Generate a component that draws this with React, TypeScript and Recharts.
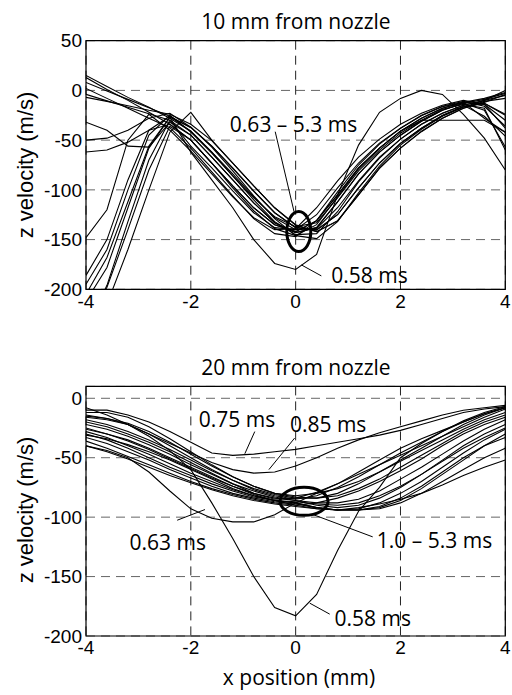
import React from 'react';
import {
  LineChart,
  Line,
  XAxis,
  YAxis,
  CartesianGrid,
  ReferenceArea,
  ReferenceDot,
  ReferenceLine,
} from 'recharts';

// x positions (mm) shared by every trace
const XS = [-4, -3.6, -3.2, -2.8, -2.4, -2, -1.6, -1.2, -0.8, -0.4, 0, 0.4, 0.8, 1.2, 1.6, 2, 2.4, 2.8, 3.2, 3.6, 4];

// ---- 10 mm from nozzle (z velocity, m/s) ----
const top_a1 = [15, 4, -7, -17, -28, -41, -62, -84, -107, -128, -140, -139, -118, -91, -67, -49, -34, -23, -15, -10, 0];
const top_a2 = [13, 1, -10, -22, -34, -50, -73, -98, -121, -139, -146, -135, -107, -79, -58, -41, -28, -18, -12, -8, -2];
const top_a3 = [8, -0.5, -9, -17.5, -26, -37.5, -56, -78.5, -101.5, -123, -138, -140.5, -125, -98, -73, -53.5, -38, -25.5, -16.5, -13, -24];
const top_a4 = [2, -8, -18, -28, -37.5, -58, -82, -106, -129, -144, -147, -131, -102, -75, -54, -38, -25.5, -16.5, -12, -14, -38];
const top_a5 = [-4, -10.5, -17, -23.5, -30, -45, -67, -90, -113, -133, -143, -138, -112, -84, -62, -45, -31, -20, -13, -20, -57];
const top_a6 = [-7, -11, -15.5, -20, -24, -34, -50.5, -73, -96, -118, -135.5, -142, -131.5, -105, -78.5, -58, -41.5, -28, -18, -12, -4];
const top_b1 = [-148, -120, -50, -24, -40, -61, -84, -107, -128, -140, -139, -118, -91, -67, -49, -34, -23, -15, -10, -14, -30];
const top_b2 = [-186, -150, -90, -40, -26, -41, -62, -86, -110, -132, -145, -144, -122, -92, -68, -49, -34, -23, -15, -26, -46];
const top_b3 = [-195, -160, -100, -45, -25, -42, -63, -86, -108, -127, -137, -133, -108, -81, -60, -43, -30, -19, -14, -18, -60];
const top_b4 = [-212, -178, -118, -58, -27, -37, -57, -81, -106, -129, -146, -149, -132, -103, -76, -55, -39, -26, -17, -10, -5];
const top_b5 = [-232, -198, -140, -80, -36, -50, -73, -96, -118, -135, -142, -131, -105, -78, -58, -41, -28, -18, -12, -28, -42];
const top_b6 = [-262, -215, -160, -100, -42, -22, -50, -73, -96, -118, -135, -142, -131, -105, -78, -58, -41, -28, -18, -11, -8];
const top_b7 = [-240, -196, -132, -70, -30, -56, -78, -101, -123, -138, -140, -125, -98, -73, -53, -38, -25, -16, -11, -16, -36];
const top_c1 = [-32, -40, -56, -57, -32, -45, -67, -90, -113, -133, -143, -138, -112, -84, -62, -45, -31, -20, -13, -9, -3];
const top_c2 = [-62, -60, -52, -40, -34, -50, -73, -96, -118, -135, -142, -131, -105, -78, -58, -41, -30, -30, -30, -30, -42];
const top_c3 = [-50, -48, -40, -28, -23, -37, -56, -78, -101, -123, -138, -140, -125, -98, -73, -53, -38, -25, -16, -13, -25];
const top_058 = [-205, -168, -112, -56, -27, -62, -90, -118, -150, -174, -180, -165, -105, -55, -22, -8, 0, -4, -24, -48, -80];

// ---- 20 mm from nozzle (z velocity, m/s) ----
const bot_058 = [-8, -14, -22, -32, -44, -60, -88, -118, -150, -176, -183, -165, -128, -95, -75, -50, -38, -28, -19, -12, -7];
const bot_063 = [-40, -44, -50, -62, -78, -93, -101, -104, -104, -98, -88, -80, -72, -62, -52, -42, -34, -27, -20, -13, -8];
const bot_075 = [-10, -10, -14, -20, -28, -37, -46, -48, -47, -45, -43, -40, -37, -34, -31, -27, -22, -17, -12, -9, -7];
const bot_085 = [-15, -17, -22, -30, -38, -46, -54, -60, -63, -62, -57, -50, -42, -35, -29, -24, -19, -14, -10, -8, -6];
const bot_m1 = [-14, -17, -21, -28, -37, -47, -57, -66, -74, -80, -82, -80, -76, -70, -62, -53, -44, -35, -26, -18, -12];
const bot_m2 = [-18, -22, -28, -35, -43, -52, -61, -69, -76, -81, -84, -84, -82, -76, -68, -58, -48, -38, -28, -20, -14];
const bot_m3 = [-22, -26, -32, -39, -47, -56, -64, -72, -78, -83, -86, -88, -88, -85, -78, -68, -58, -47, -36, -26, -18];
const bot_m4 = [-25, -30, -36, -43, -51, -59, -67, -74, -80, -84, -86, -90, -92, -90, -84, -75, -64, -52, -40, -30, -22];
const bot_m5 = [-28, -33, -40, -47, -55, -63, -70, -77, -82, -86, -88, -92, -94, -93, -88, -80, -70, -58, -46, -35, -26];
const bot_m6 = [-30, -35, -42, -50, -58, -65, -72, -78, -83, -86, -88, -92, -94, -94, -92, -86, -76, -64, -52, -40, -30];
const bot_m7 = [-33, -38, -45, -52, -60, -67, -74, -80, -84, -87, -89, -92, -94, -94, -91, -84, -74, -62, -50, -40, -33];
const bot_m8 = [-36, -42, -49, -56, -63, -70, -76, -81, -85, -88, -90, -93, -94, -94, -93, -88, -80, -70, -60, -50, -42];
const bot_m9 = [-40, -45, -51, -58, -65, -71, -77, -82, -86, -89, -91, -93, -94, -92, -89, -85, -80, -73, -65, -58, -52];
const bot_m10 = [-20, -24, -30, -37, -45, -54, -63, -72, -80, -85, -84, -79, -72, -64, -56, -48, -40, -32, -24, -16, -9];
const bot_m11 = [-16, -18, -22, -30, -40, -50, -60, -69, -77, -82, -85, -82, -75, -66, -56, -46, -37, -28, -20, -13, -8];
const bot_m12 = [-26, -30, -35, -42, -50, -58, -66, -74, -81, -86, -90, -88, -84, -78, -70, -61, -51, -40, -30, -22, -16];
const bot_m13 = [-31, -34, -39, -45, -52, -60, -68, -76, -82, -86, -87, -89, -90, -88, -82, -74, -64, -53, -42, -33, -25];
const bot_m14 = [-12, -12, -16, -24, -34, -45, -56, -66, -74, -80, -83, -84, -80, -72, -62, -52, -42, -32, -22, -14, -8];

const TOP_LINES = [top_a1, top_a2, top_a3, top_a4, top_a5, top_a6, top_b1, top_b2, top_b3, top_b4, top_b5, top_b6, top_b7, top_c1, top_c2, top_c3, top_058];
const BOT_LINES = [bot_058, bot_063, bot_075, bot_085, bot_m1, bot_m2, bot_m3, bot_m4, bot_m5, bot_m6, bot_m7, bot_m8, bot_m9, bot_m10, bot_m11, bot_m12, bot_m13, bot_m14];

const X_TICKS = [-4, -2, 0, 2, 4];
const TOP_Y_TICKS = [-200, -150, -100, -50, 0, 50];
const BOT_Y_TICKS = [-200, -150, -100, -50, 0];

// annotations, in data coordinates
const TOP_NOTES = [
  { text: '0.63 \u2013 5.3 ms', x: -0.04, y: -34 },
  { text: '0.58 ms', x: 1.41, y: -186.5 },
];
const TOP_POINTERS = [
  [-0.39, -41.5, -0.03, -122],
  [0.11, -175.5, 0.49, -186.5],
];
const TOP_RING = { x: 0.06, y: -142, rx: 12, ry: 20 };

const BOT_NOTES = [
  { text: '0.75 ms', x: -1.12, y: -17.6 },
  { text: '0.85 ms', x: 0.62, y: -21.7 },
  { text: '0.63 ms', x: -2.44, y: -121.3 },
  { text: '1.0 \u2013 5.3 ms', x: 2.65, y: -120 },
  { text: '0.58 ms', x: 1.47, y: -185.3 },
];
const BOT_POINTERS = [
  [-0.78, -28, -0.97, -46.7],
  [-0.02, -33.5, -0.51, -60],
  [-2.26, -102.6, -1.73, -93.6],
  [0.33, -97.8, 1.47, -116.6],
  [0.27, -172.4, 0.65, -181.6],
];
const BOT_RING = { x: 0.16, y: -86.7, rx: 24, ry: 14 };

const TICK_FONT = { fontSize: 19, fontFamily: '"Liberation Sans", Arial, sans-serif', fill: '#000' };
const NOTE_FONT = '"Open Sans", sans-serif';

function toRows(lines: number[][]) {
  return XS.map((x, i) => {
    const row: Record<string, number> = { x };
    lines.forEach((l, j) => {
      row['s' + j] = l[i];
    });
    return row;
  });
}

interface PanelProps {
  lines: number[][];
  yDomain: [number, number];
  yTicks: number[];
  notes: { text: string; x: number; y: number }[];
  pointers: number[][];
  ring: { x: number; y: number; rx: number; ry: number };
  height: number;
  margin: { top: number; right: number; bottom: number; left: number };
}

function Panel({ lines, yDomain, yTicks, notes, pointers, ring, height, margin }: PanelProps) {
  const rows = toRows(lines);
  return (
    <LineChart width={512} height={height} data={rows} margin={margin}>
      <CartesianGrid horizontal vertical={false} stroke="#666" strokeDasharray="9 6" />
      <CartesianGrid horizontal={false} vertical stroke="#222" strokeDasharray="9 6" />
      <XAxis
        type="number"
        dataKey="x"
        domain={[-4, 4]}
        ticks={X_TICKS}
        interval={0}
        allowDataOverflow
        axisLine={false}
        tickLine={false}
        tickSize={4}
        tickMargin={1}
        height={30}
        tick={TICK_FONT}
      />
      <YAxis
        type="number"
        domain={yDomain}
        ticks={yTicks}
        interval={0}
        allowDataOverflow
        axisLine={false}
        tickLine={false}
        tickSize={4}
        tickMargin={0}
        width={60}
        tick={TICK_FONT}
      />
      {lines.map((_, j) => (
        <Line
          key={j}
          type="linear"
          dataKey={'s' + j}
          stroke="#000"
          strokeWidth={1.1}
          dot={false}
          isAnimationActive={false}
        />
      ))}
      <ReferenceArea x1={-4} x2={4} y1={yDomain[0]} y2={yDomain[1]} fill="none" stroke="#000" strokeWidth={1.2} />
      {pointers.map((p, i) => (
        <ReferenceLine
          key={'p' + i}
          segment={[{ x: p[0], y: p[1] }, { x: p[2], y: p[3] }]}
          stroke="#000"
          strokeWidth={1}
        />
      ))}
      <ReferenceDot
        x={ring.x}
        y={ring.y}
        shape={(props: any) => (
          <ellipse cx={props.cx} cy={props.cy} rx={ring.rx} ry={ring.ry} fill="none" stroke="#000" strokeWidth={3} />
        )}
      />
      {notes.map((n, i) => (
        <ReferenceDot
          key={'n' + i}
          x={n.x}
          y={n.y}
          shape={(props: any) => (
            <text
              x={props.cx}
              y={props.cy + 7.5}
              textAnchor="middle"
              fontSize={21}
              fontFamily={NOTE_FONT}
              fill="#000"
            >
              {n.text}
            </text>
          )}
        />
      ))}
    </LineChart>
  );
}

export default function App() {
  return (
    <div style={{ position: 'absolute', left: 0, top: 0, width: 512, height: 695, background: '#fff' }}>
      <div style={{ position: 'absolute', left: 0, top: 0 }}>
        <Panel
          lines={TOP_LINES}
          yDomain={[-200, 50]}
          yTicks={TOP_Y_TICKS}
          notes={TOP_NOTES}
          pointers={TOP_POINTERS}
          ring={TOP_RING}
          height={330}
          margin={{ top: 40.7, right: 6.7, bottom: 10.7, left: 26 }}
        />
      </div>
      <div style={{ position: 'absolute', left: 0, top: 330 }}>
        <Panel
          lines={BOT_LINES}
          yDomain={[-200, 10]}
          yTicks={BOT_Y_TICKS}
          notes={BOT_NOTES}
          pointers={BOT_POINTERS}
          ring={BOT_RING}
          height={365}
          margin={{ top: 56.4, right: 6.7, bottom: 29, left: 26 }}
        />
      </div>
      <svg
        width={512}
        height={695}
        style={{ position: 'absolute', left: 0, top: 0, pointerEvents: 'none' }}
      >
        <text x={296} y={29.3} textAnchor="middle" fontSize={21} fontFamily={NOTE_FONT} fill="#000">
          10 mm from nozzle
        </text>
        <text x={296} y={375} textAnchor="middle" fontSize={21} fontFamily={NOTE_FONT} fill="#000">
          20 mm from nozzle
        </text>
        <text x={299} y={685} textAnchor="middle" fontSize={21} fontFamily={NOTE_FONT} fill="#000">
          x position (mm)
        </text>
        <text
          x={33}
          y={165}
          transform="rotate(-90, 33, 165)"
          textAnchor="middle"
          fontSize={22}
          fontFamily='"Liberation Sans", Arial, sans-serif'
          fill="#000"
        >
          z velocity (m/s)
        </text>
        <text
          x={33}
          y={510}
          transform="rotate(-90, 33, 510)"
          textAnchor="middle"
          fontSize={22}
          fontFamily='"Liberation Sans", Arial, sans-serif'
          fill="#000"
        >
          z velocity (m/s)
        </text>
      </svg>
    </div>
  );
}
